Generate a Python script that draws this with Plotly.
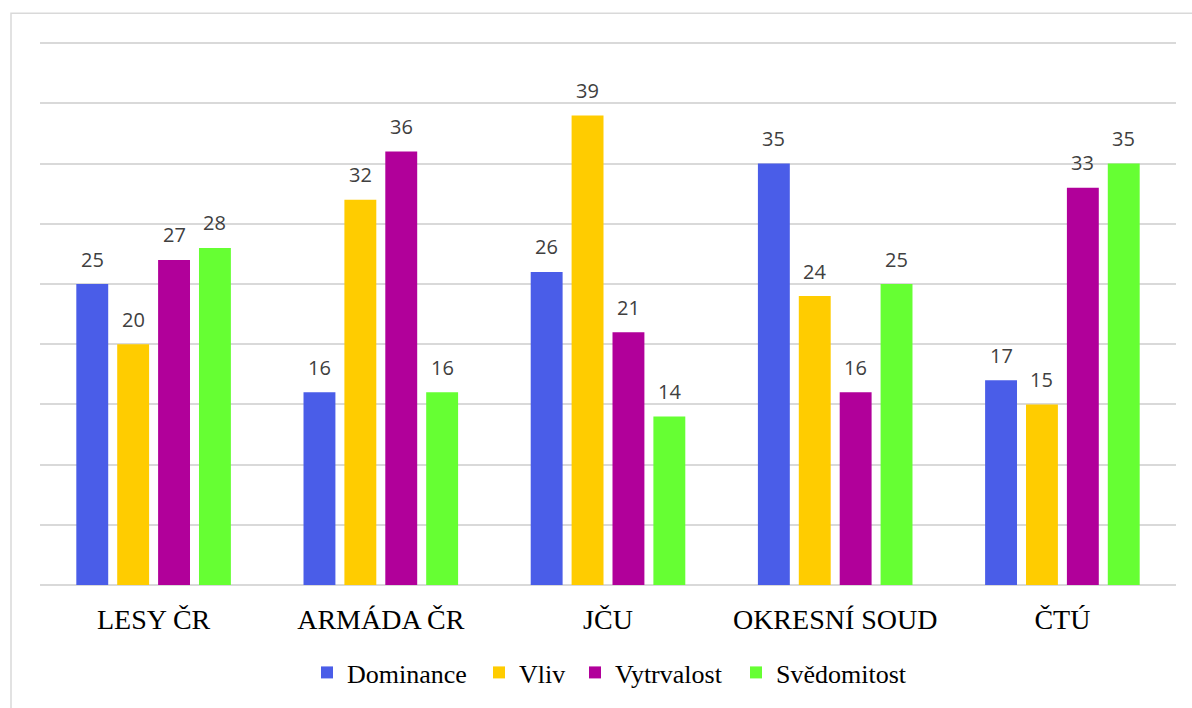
import plotly.graph_objects as go

categories = ["LESY ČR", "ARMÁDA ČR", "JČU", "OKRESNÍ SOUD", "ČTÚ"]
series_names = ["Dominance", "Vliv", "Vytrvalost", "Svědomitost"]
dominance = [25, 16, 26, 35, 17]
vliv = [20, 32, 39, 24, 15]
vytrvalost = [27, 36, 21, 16, 33]
svedomitost = [28, 16, 14, 25, 35]
colors = ["#4A5DE8", "#FFCC00", "#B1009A", "#66FF33"]

series = [dominance, vliv, vytrvalost, svedomitost]

W, H = 1192, 708
YMAX = 45.1
l, r, t, b = 40, 16, 42, 120
pw, ph = W - l - r, H - t - b
BARGAP, GROUPGAP = 0.28, 0.22

def px_x(x):
    return (x - l) / pw

def px_y(y):
    return (H - b - y) / ph

legend_left_px = [323, 495, 591, 752]
legend_names = ["legend", "legend2", "legend3", "legend4"]

fig = go.Figure()
slot = (pw / len(categories)) * (1 - BARGAP) / len(series)
annotations = []
for i, (name, vals, col) in enumerate(zip(series_names, series, colors)):
    fig.add_trace(go.Bar(
        name=name, x=categories, y=vals, marker=dict(color=col, line=dict(width=0)),
        legend=legend_names[i], showlegend=True,
    ))
    for c, v in zip(categories, vals):
        annotations.append(dict(
            x=c, y=v, xref="x", yref="y", text=str(v), showarrow=False,
            xshift=(i - (len(series) - 1) / 2) * slot, yshift=25, yanchor="middle",
            font=dict(family="Open Sans", size=20, color="#404040"),
        ))

legend_font = dict(family="Liberation Serif", size=26, color="black")
legends = {}
for i, ln in enumerate(legend_names):
    legends[ln] = dict(
        orientation="h", x=px_x(legend_left_px[i] - 16), xanchor="left",
        y=px_y(676), yanchor="middle", font=legend_font,
        bgcolor="rgba(0,0,0,0)", itemwidth=30,
    )

fig.update_layout(
    width=W, height=H,
    margin=dict(l=l, r=r, t=t, b=b),
    paper_bgcolor="white", plot_bgcolor="white",
    showlegend=True,
    barmode="group", bargap=BARGAP, bargroupgap=GROUPGAP,
    font=dict(family="Liberation Serif", color="black"),
    xaxis=dict(
        tickfont=dict(family="Liberation Serif", size=28, color="black"),
        showline=False, ticks="", ticklabelstandoff=15,
    ),
    yaxis=dict(
        range=[0, YMAX], dtick=5, showticklabels=False,
        showgrid=True, gridcolor="#D9D9D9", gridwidth=1.5,
        zeroline=True, zerolinecolor="#D9D9D9", zerolinewidth=1.5,
    ),
    annotations=annotations,
    shapes=[dict(
        type="rect", xref="paper", yref="paper",
        x0=px_x(11), x1=px_x(1210), y0=px_y(730), y1=px_y(13),
        line=dict(color="#D9D9D9", width=1.5), fillcolor="rgba(0,0,0,0)", layer="below",
    )],
    **legends,
)

fig.write_html(
    "out.html",
    config={"displayModeBar": False},
    post_script="document.body.style.margin='0';document.body.style.overflow='hidden';",
)
